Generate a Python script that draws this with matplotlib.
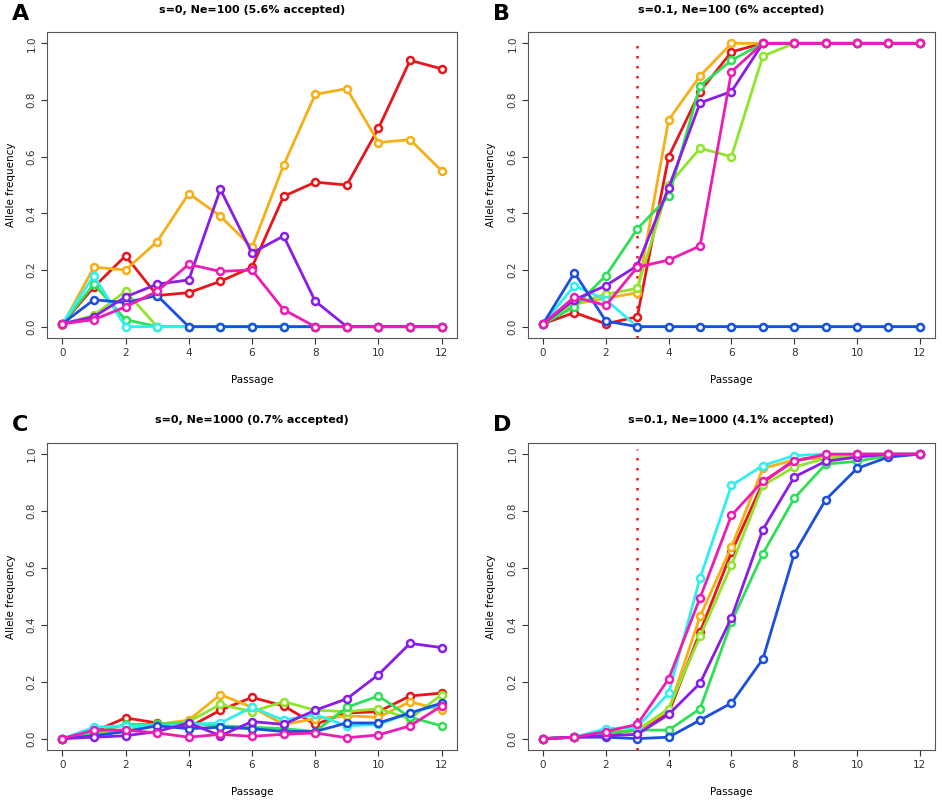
import matplotlib
matplotlib.use("Agg")
import matplotlib.pyplot as plt
import numpy as np

passage = list(range(13))
colors = ["#E8161B", "#F5B018", "#8EE52B", "#2EE055", "#2FEFF0", "#1A4FE0", "#8A1CE8", "#EE1CB4"]

A = [
 [0.01,0.14,0.25,0.11,0.12,0.16,0.21,0.46,0.51,0.50,0.70,0.94,0.91],
 [0.005,0.21,0.20,0.30,0.47,0.39,0.28,0.57,0.82,0.84,0.65,0.66,0.55],
 [0.01,0.04,0.125,0,0,0,0,0,0,0,0,0,0],
 [0.01,0.15,0.025,0,0,0,0,0,0,0,0,0,0],
 [0.01,0.18,0,0,0,0,0,0,0,0,0,0,0],
 [0.01,0.095,0.085,0.11,0,0,0,0,0,0,0,0,0],
 [0.01,0.035,0.105,0.15,0.165,0.485,0.26,0.32,0.09,0,0,0,0],
 [0.01,0.025,0.07,0.125,0.22,0.195,0.20,0.06,0,0,0,0,0],
]
B = [
 [0.01,0.05,0.01,0.035,0.60,0.83,0.97,1,1,1,1,1,1],
 [0.01,0.08,0.10,0.12,0.73,0.885,1,1,1,1,1,1,1],
 [0.01,0.08,0.115,0.135,0.50,0.63,0.60,0.955,1,1,1,1,1],
 [0.01,0.07,0.18,0.345,0.46,0.85,0.94,1,1,1,1,1,1],
 [0.01,0.145,0.095,0,0,0,0,0,0,0,0,0,0],
 [0.01,0.19,0.02,0,0,0,0,0,0,0,0,0,0],
 [0.01,0.095,0.145,0.215,0.49,0.79,0.83,1,1,1,1,1,1],
 [0.01,0.105,0.075,0.21,0.235,0.285,0.90,1,1,1,1,1,1],
]
C = [
 [0,0.025,0.073,0.055,0.04,0.10,0.145,0.115,0.05,0.09,0.095,0.15,0.16],
 [0,0.02,0.03,0.05,0.065,0.155,0.11,0.05,0.07,0.08,0.075,0.13,0.10],
 [0,0.015,0.03,0.05,0.06,0.12,0.095,0.13,0.10,0.095,0.105,0.07,0.155],
 [0,0.02,0.05,0.05,0.055,0.045,0.04,0.035,0.025,0.11,0.15,0.075,0.045],
 [0,0.04,0.045,0.045,0.05,0.055,0.11,0.065,0.085,0.045,0.05,0.09,0.12],
 [0,0.01,0.025,0.045,0.035,0.04,0.035,0.025,0.025,0.055,0.055,0.09,0.125],
 [0,0.005,0.01,0.025,0.055,0.01,0.06,0.05,0.10,0.14,0.225,0.335,0.32],
 [0,0.03,0.03,0.02,0.005,0.015,0.008,0.015,0.02,0.003,0.013,0.045,0.115],
]
D = [
 [0,0.005,0.015,0.03,0.09,0.375,0.655,0.90,0.98,0.99,1,1,1],
 [0,0.005,0.02,0.03,0.10,0.43,0.675,0.95,0.98,0.99,1,1,1],
 [0,0.005,0.02,0.03,0.105,0.36,0.61,0.89,0.955,0.985,0.995,1,1],
 [0,0.005,0.02,0.03,0.03,0.105,0.41,0.65,0.845,0.965,0.975,0.995,1],
 [0,0.005,0.035,0.04,0.16,0.565,0.89,0.96,0.995,1,1,1,1],
 [0,0.005,0.005,0,0.005,0.065,0.125,0.28,0.65,0.84,0.95,0.99,1],
 [0,0.005,0.01,0.015,0.085,0.195,0.425,0.735,0.92,0.975,0.99,1,1],
 [0,0.005,0.025,0.05,0.21,0.495,0.785,0.905,0.975,1,1,1,1],
]
titles = ["s=0, Ne=100 (5.6% accepted)", "s=0.1, Ne=100 (6% accepted)",
          "s=0, Ne=1000 (0.7% accepted)", "s=0.1, Ne=1000 (4.1% accepted)"]
letters = ["A", "B", "C", "D"]
vline = [None, 3, None, 3]

fig = plt.figure(figsize=(9.42, 8.0), dpi=100)
positions = [[0.050, 0.5775, 0.435, 0.3825], [0.5605, 0.5775, 0.432, 0.3825],
             [0.050, 0.0625, 0.435, 0.384], [0.5605, 0.0625, 0.432, 0.384]]
for i, data in enumerate([A, B, C, D]):
    ax = fig.add_axes(positions[i])
    if vline[i] is not None:
        ax.axvline(vline[i], color="#E8161B", ls=(0, (1, 3)), lw=1.8, ymin=0.0, ymax=0.98)
    for s, c in zip(data, colors):
        ax.plot(passage, s, color=c, lw=2, marker="o", ms=5, mfc="white", mec=c, mew=1.8)
    ax.set_xlim(-0.48, 12.48)
    ax.set_ylim(-0.04, 1.04)
    ax.set_xticks(range(0, 13, 2))
    ax.set_yticks([0, 0.2, 0.4, 0.6, 0.8, 1.0])
    ax.set_yticklabels(["0.0", "0.2", "0.4", "0.6", "0.8", "1.0"], rotation=90, va="center")
    ax.tick_params(labelsize=7.5, colors="#333333", length=4)
    for sp in ax.spines.values():
        sp.set_color("#555555")
    ax.set_xlabel("Passage", fontsize=7.5, labelpad=12)
    ax.set_ylabel("Allele frequency", fontsize=7.5, labelpad=8)
    ax.set_title(titles[i], fontsize=8, fontweight="bold", pad=14)
    ax.text(-0.085, 1.025, letters[i], transform=ax.transAxes, fontsize=16, fontweight="bold", ha="left", va="bottom")

fig.savefig("out.png", dpi=100)
